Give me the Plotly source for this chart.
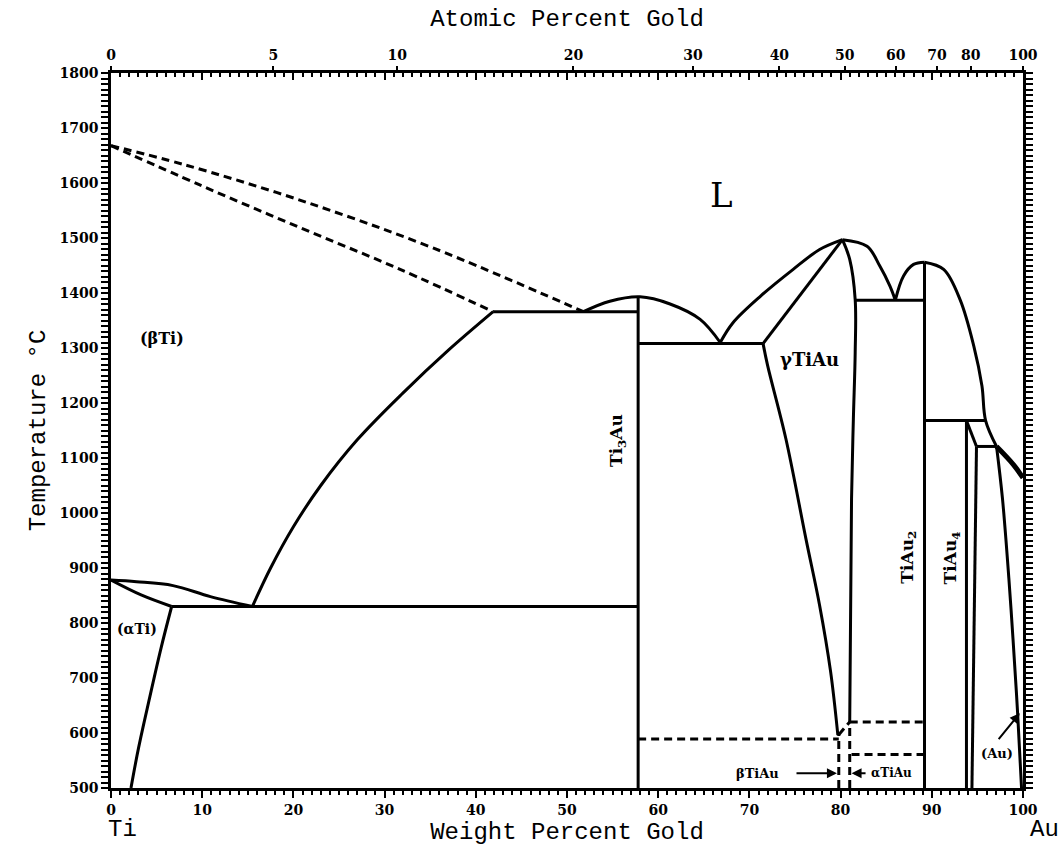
import plotly.graph_objects as go

# ---- Ti-Au phase diagram data (weight % Au, temperature in deg C) ----
LINE_W = 3

# beta-Ti liquidus and solidus (dashed, uncertain)
liq_beta_wt = [0, 7.9, 20.7, 35.3, 51.8]
liq_beta_T = [1668, 1634, 1569, 1482, 1366]
sol_beta_wt = [0, 9.8, 20.7, 31.7, 41.9]
sol_beta_T = [1668, 1596, 1519, 1443, 1366]

# peritectic / eutectic isotherm at ~1366
iso1366_wt = [41.9, 57.8]
iso1366_T = [1366, 1366]

# (betaTi) / (betaTi)+Ti3Au solvus
solv_beta_wt = [41.9, 37.0, 32.0, 27.0, 23.0, 20.0, 17.5, 15.5]
solv_beta_T = [1366, 1296, 1218, 1133, 1050, 975, 900, 830]

# eutectoid isotherm
eutectoid_wt = [6.65, 57.8]
eutectoid_T = [830, 830]

# beta transus region near pure Ti
beta_upper_wt = [0, 2.8, 6.8, 10.9, 15.5]
beta_upper_T = [878, 875, 868, 848, 830]
beta_lower_wt = [0, 3.3, 6.65]
beta_lower_T = [878, 851, 830]

# (alphaTi) solvus
solv_alpha_wt = [6.65, 5.48, 4.22, 3.01, 2.19]
solv_alpha_T = [830, 754, 663, 572, 500]

# Ti3Au line compound and its liquidus
ti3au_wt = [57.8, 57.8]
ti3au_T = [500, 1393]
liq_ti3au_wt = [51.8, 54.7, 58.0, 61.3, 64.6, 66.8]
liq_ti3au_T = [1366, 1385, 1393, 1380, 1352, 1310]

# eutectic Ti3Au + gammaTiAu
iso1308_wt = [57.8, 71.5]
iso1308_T = [1308, 1308]

# gammaTiAu
liq_gam_left_wt = [66.8, 68.2, 71.2, 74.8, 77.7, 80.2]
liq_gam_left_T = [1310, 1346, 1394, 1443, 1479, 1497]
sol_gam_left_wt = [71.5, 80.2]
sol_gam_left_T = [1308, 1497]
solv_gam_left_wt = [71.5, 72.0, 74.0, 76.2, 77.7, 78.9, 79.7]
solv_gam_left_T = [1308, 1268, 1135, 953, 832, 712, 596]
gam_right_wt = [80.2, 81.0, 81.6, 81.6, 81.4, 81.2, 81.0]
gam_right_T = [1497, 1461, 1388, 1292, 1171, 1026, 620]
liq_gam_right_wt = [80.2, 82.9, 84.3, 85.4, 86.0]
liq_gam_right_T = [1497, 1485, 1449, 1413, 1387]

# eutectic gammaTiAu + TiAu2
iso1387_wt = [81.6, 89.2]
iso1387_T = [1387, 1387]

# TiAu2 line compound and liquidus
liq_tiau2_left_wt = [86.0, 86.9, 88.0, 89.2]
liq_tiau2_left_T = [1387, 1431, 1452, 1456]
tiau2_wt = [89.2, 89.2]
tiau2_T = [500, 1456]
liq_right_wt = [89.2, 91.3, 93.1, 94.6, 95.5, 95.9, 97.1]
liq_right_T = [1456, 1443, 1388, 1304, 1231, 1168, 1121]
liq_au_wt = [97.1, 98.9, 100]
liq_au_T = [1121, 1089, 1064]

# TiAu4 and peritectics
iso1168_wt = [89.2, 95.9]
iso1168_T = [1168, 1168]
tiau4_left_wt = [93.8, 93.8]
tiau4_left_T = [500, 1168]
tiau4_slant_wt = [93.8, 94.9]
tiau4_slant_T = [1168, 1121]
iso1121_wt = [94.9, 97.1]
iso1121_T = [1121, 1121]
tiau4_right_wt = [94.9, 94.4]
tiau4_right_T = [1121, 500]

# (Au) solidus / solvus
solv_au_wt = [97.1, 97.75, 98.45, 98.9, 99.4, 99.84]
solv_au_T = [1121, 1026, 881, 772, 639, 500]

# low-temperature TiAu transformations (dashed)
dash_589_wt = [57.8, 79.8]
dash_589_T = [589, 589]
dash_left_wt = [79.8, 79.8]
dash_left_T = [500, 597]
dash_link_wt = [79.8, 81.0]
dash_link_T = [597, 620]
dash_right_wt = [81.0, 81.0]
dash_right_T = [500, 620]
dash_620_wt = [81.0, 89.2]
dash_620_T = [620, 620]
dash_561_wt = [81.2, 89.2]
dash_561_T = [561, 561]

# axis ticks
wt_ticks = list(range(0, 101, 10))
temp_ticks = list(range(500, 1801, 100))
at_labels = [0, 5, 10, 20, 30, 40, 50, 60, 70, 80, 100]
M_AU, M_TI = 196.967, 47.867


def at_to_wt(a):
    return 100.0 * a * M_AU / (a * M_AU + (100 - a) * M_TI)


at_tick_pos = [at_to_wt(a) for a in at_labels]

solid_lines = [
    (iso1366_wt, iso1366_T), (solv_beta_wt, solv_beta_T),
    (eutectoid_wt, eutectoid_T), (beta_upper_wt, beta_upper_T),
    (beta_lower_wt, beta_lower_T), (solv_alpha_wt, solv_alpha_T),
    (ti3au_wt, ti3au_T), (liq_ti3au_wt, liq_ti3au_T),
    (iso1308_wt, iso1308_T), (liq_gam_left_wt, liq_gam_left_T),
    (sol_gam_left_wt, sol_gam_left_T), (solv_gam_left_wt, solv_gam_left_T),
    (gam_right_wt, gam_right_T), (liq_gam_right_wt, liq_gam_right_T),
    (iso1387_wt, iso1387_T), (liq_tiau2_left_wt, liq_tiau2_left_T),
    (tiau2_wt, tiau2_T), (liq_right_wt, liq_right_T),
    (iso1168_wt, iso1168_T), (tiau4_left_wt, tiau4_left_T),
    (tiau4_slant_wt, tiau4_slant_T), (iso1121_wt, iso1121_T),
    (tiau4_right_wt, tiau4_right_T), (solv_au_wt, solv_au_T),
]

dashed_lines = [
    (liq_beta_wt, liq_beta_T), (sol_beta_wt, sol_beta_T),
    (dash_589_wt, dash_589_T), (dash_left_wt, dash_left_T),
    (dash_link_wt, dash_link_T), (dash_right_wt, dash_right_T),
    (dash_620_wt, dash_620_T), (dash_561_wt, dash_561_T),
]

fig = go.Figure()


def boundary(xs, ys, width=LINE_W, dash="solid"):
    # multi-point boundaries are drawn as smooth curves
    shape = "spline" if len(xs) > 2 else "linear"
    fig.add_trace(go.Scatter(x=xs, y=ys, mode="lines",
                             line=dict(color="black", width=width, dash=dash,
                                       shape=shape, smoothing=1.0),
                             hoverinfo="skip", showlegend=False))


for xs, ys in solid_lines:
    boundary(xs, ys)
for xs, ys in dashed_lines:
    boundary(xs, ys, dash="8px,5px")
# heavier liquidus toward pure Au
boundary(liq_au_wt, liq_au_T, width=5)

# placeholder traces so that the two top axes are drawn
for ax in ("x2", "x3"):
    fig.add_trace(go.Scatter(x=[0, 100], y=[None, None], xaxis=ax, yaxis="y",
                             mode="lines", hoverinfo="skip", showlegend=False))

TICK_FONT = dict(family="DejaVu Serif", size=14, color="black", weight="bold")
TITLE_FONT = dict(family="Liberation Mono", size=24, color="black")

fig.update_layout(
    width=1062, height=852,
    margin=dict(l=111, r=39, t=73, b=62),
    paper_bgcolor="white", plot_bgcolor="white",
    xaxis=dict(range=[0, 100], tickvals=wt_ticks, ticks="outside", ticklen=7,
               tickwidth=2, tickcolor="black", showline=True, linewidth=2.5,
               linecolor="black", showgrid=False, zeroline=False,
               tickfont=TICK_FONT,
               minor=dict(dtick=1, ticks="outside", ticklen=4, tickwidth=1.5,
                          tickcolor="black", showgrid=False),
               title=dict(text="Weight Percent Gold", font=TITLE_FONT, standoff=6)),
    xaxis3=dict(range=[0, 100], overlaying="x", side="top", anchor="y",
                tickvals=wt_ticks, ticks="inside", ticklen=7, tickwidth=2,
                tickcolor="black", showticklabels=False, showline=True,
                linewidth=2.5, linecolor="black", showgrid=False, zeroline=False,
                minor=dict(dtick=1, ticks="inside", ticklen=4, tickwidth=1.5,
                           tickcolor="black", showgrid=False)),
    xaxis2=dict(range=[0, 100], overlaying="x", side="top", anchor="y",
                tickvals=at_tick_pos, ticktext=[str(a) for a in at_labels],
                ticks="outside", ticklen=6, tickwidth=2, tickcolor="black",
                showline=False, showgrid=False, zeroline=False,
                tickfont=TICK_FONT,
                title=dict(text="Atomic Percent Gold", font=TITLE_FONT, standoff=14)),
    yaxis=dict(range=[500, 1800], tickvals=temp_ticks, ticks="outside", ticklen=7,
               tickwidth=2, tickcolor="black", showline=True, linewidth=2.5,
               linecolor="black", mirror="allticks", showgrid=False,
               zeroline=False, tickfont=TICK_FONT,
               minor=dict(dtick=10, ticks="outside", ticklen=4, tickwidth=1.5,
                          tickcolor="black", showgrid=False),
               title=dict(text="Temperature °C", font=TITLE_FONT, standoff=8)),
)


def label(text, x, y, size, angle=0, bold=True, family="DejaVu Serif"):
    f = dict(family=family, color="black", size=size)
    if bold:
        f["weight"] = "bold"
    fig.add_annotation(x=x, y=y, xref="x", yref="y", text=text, showarrow=False,
                       textangle=angle, font=f)


label("L", 66.95, 1578, 34, bold=False)
label("(βTi)", 5.6, 1318, 16)
label("(αTi)", 2.8, 789, 14)
label("γTiAu", 76.6, 1280, 18)
label("Ti<sub>3</sub>Au", 55.6, 1131, 17, angle=-90)
label("TiAu<sub>2</sub>", 87.4, 919, 17, angle=-90)
label("TiAu<sub>4</sub>", 92.2, 919, 17, angle=-90)
label("βTiAu", 70.9, 527, 13)
label("αTiAu", 85.6, 527, 12)
label("(Au)", 97.15, 563, 13)

# arrows pointing at the narrow phase fields
arrows = [
    (75.0, 527, 79.6, 527),
    (82.9, 527, 81.2, 527),
    (97.2, 586, 99.65, 636),
]
for x0, y0, x1, y1 in arrows:
    fig.add_annotation(x=x1, y=y1, ax=x0, ay=y0, xref="x", yref="y",
                       axref="x", ayref="y", text="", showarrow=True,
                       arrowhead=2, arrowsize=1, arrowwidth=2,
                       arrowcolor="black")

# element names at the ends of the composition axis
END_FONT = dict(family="Liberation Mono", size=24, color="black")
fig.add_annotation(x=0.013, y=-0.058, xref="paper", yref="paper", text="Ti",
                   xanchor="center", yanchor="middle", showarrow=False,
                   font=END_FONT)
fig.add_annotation(x=1.024, y=-0.058, xref="paper", yref="paper", text="Au",
                   xanchor="center", yanchor="middle", showarrow=False,
                   font=END_FONT)

fig.write_html("out.html")
